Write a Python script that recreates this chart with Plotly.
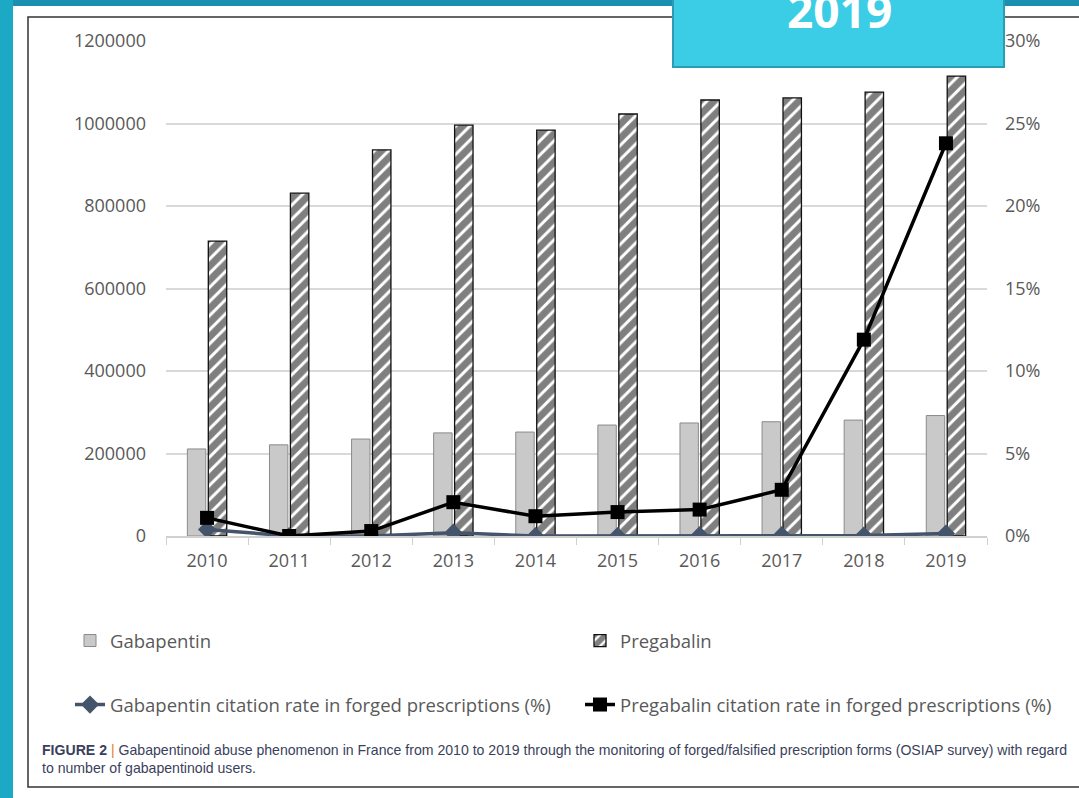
import plotly.graph_objects as go

W, H = 1079, 798

years = ["2010", "2011", "2012", "2013", "2014", "2015", "2016", "2017", "2018", "2019"]
gabapentin_users = [211000, 221000, 235000, 250000, 252000, 269000, 274000, 277000, 281000, 292000]
pregabalin_users = [715000, 831000, 936000, 996000, 984000, 1023000, 1057000, 1062000, 1076000, 1115000]
gabapentin_rate = [0.4, 0.0, 0.0, 0.2, 0.0, 0.0, 0.05, 0.05, 0.03, 0.15]
pregabalin_rate = [1.1, 0.0, 0.3, 2.05, 1.2, 1.45, 1.6, 2.8, 11.9, 23.8]

left_ticks = [0, 200000, 400000, 600000, 800000, 1000000, 1200000]
right_ticks = [0, 5, 10, 15, 20, 25, 30]
right_labels = ["0%", "5%", "10%", "15%", "20%", "25%", "30%"]

caption = ("<b>FIGURE 2</b> <span style='color:#e07b2a'>|</span> Gabapentinoid abuse phenomenon in France from 2010 to 2019 "
           "through the monitoring of forged/falsified prescription forms (OSIAP survey) with regard<br>"
           "to number of gabapentinoid users.")

def px(x):
    return x / W

def py(y):
    return 1 - y / H

fig = go.Figure()
fig.add_trace(go.Bar(
    x=years, y=gabapentin_users, name="Gabapentin",
    marker=dict(color="#c9c9c9", line=dict(color="#8a8a8a", width=1)),
    legend="legend",
))
fig.add_trace(go.Bar(
    x=years, y=pregabalin_users, name="Pregabalin",
    marker=dict(color="white", line=dict(color="#111111", width=1.3),
                pattern=dict(shape="/", fgcolor="black", bgcolor="white", size=10, solidity=0.7)),
    legend="legend",
))
fig.add_trace(go.Scatter(
    x=years, y=gabapentin_rate, name="Gabapentin citation rate in forged prescriptions (%)",
    yaxis="y2", mode="lines+markers",
    line=dict(color="#44546a", width=3.5),
    marker=dict(symbol="diamond", size=14, color="#44546a"),
    legend="legend2",
))
fig.add_trace(go.Scatter(
    x=years, y=pregabalin_rate, name="Pregabalin citation rate in forged prescriptions (%)",
    yaxis="y2", mode="lines+markers",
    line=dict(color="black", width=3.5),
    marker=dict(symbol="square", size=14, color="black"),
    legend="legend2",
))

tickfont = dict(family="Open Sans", size=18, color="#595959")
legfont = dict(family="Open Sans", size=18.5, color="#595959")

fig.update_layout(
    width=W, height=H,
    margin=dict(l=0, r=0, t=0, b=0, autoexpand=False),
    paper_bgcolor="white", plot_bgcolor="white",
    barmode="group", bargap=0.49, bargroupgap=0.12,
    showlegend=True,
    xaxis=dict(domain=[px(166), px(987)], type="category", automargin=False,
               range=[-0.5, len(years) - 0.5],
               showline=True, linecolor="#d0d0d0", linewidth=1.5,
               ticks="outside", tickson="boundaries", ticklen=7, tickcolor="#d0d0d0",
               tickfont=tickfont, showgrid=False, ticklabelstandoff=8),
    yaxis=dict(domain=[py(536), py(41)], range=[0, 1200000], tickvals=left_ticks,
               ticktext=[str(v) for v in left_ticks], automargin=False,
               showgrid=True, gridcolor="#d9d9d9", gridwidth=1.5,
               zeroline=False, tickfont=tickfont, ticks="", ticklabelstandoff=19),
    yaxis2=dict(overlaying="y", side="right", range=[0, 30], tickvals=right_ticks,
                ticktext=right_labels, showgrid=False, zeroline=False, automargin=False,
                tickfont=tickfont, ticklabelstandoff=17),
    legend=dict(orientation="h", x=px(70), y=py(622), xanchor="left", yanchor="top",
                entrywidth=465, entrywidthmode="pixels", font=legfont,
                bgcolor="rgba(0,0,0,0)"),
    legend2=dict(orientation="h", x=px(70), y=py(686), xanchor="left", yanchor="top",
                 entrywidth=465, entrywidthmode="pixels", font=legfont,
                 bgcolor="rgba(0,0,0,0)"),
    shapes=[
        dict(type="rect", xref="paper", yref="paper", x0=0, x1=1, y0=py(6), y1=1,
             fillcolor="#1b8fae", line=dict(width=0), layer="below"),
        dict(type="rect", xref="paper", yref="paper", x0=0, x1=px(13), y0=0, y1=1,
             fillcolor="#1ca9c6", line=dict(width=0), layer="below"),
        dict(type="rect", xref="paper", yref="paper", x0=px(28), x1=px(1090), y0=py(787), y1=py(17),
             fillcolor="rgba(0,0,0,0)", line=dict(color="#333333", width=1.5), layer="below"),
        dict(type="rect", xref="paper", yref="paper", x0=px(673), x1=px(1004), y0=py(67), y1=py(-5),
             fillcolor="#3bcce6", line=dict(color="#2a9cb3", width=2), layer="above"),
    ],
    annotations=[
        dict(text="<b>2019</b>", xref="paper", yref="paper", x=px(839), y=py(10),
             xanchor="center", yanchor="middle", showarrow=False,
             font=dict(family="Open Sans", size=46, color="white")),
        dict(text=caption, xref="paper", yref="paper", x=px(40), y=py(740),
             xanchor="left", yanchor="top", align="left", showarrow=False,
             font=dict(family="Liberation Sans", size=14.1, color="#3a3f5c")),
    ],
)

fig.write_html("out.html", config={"displayModeBar": False},
               post_script="document.body.style.margin='0';")
